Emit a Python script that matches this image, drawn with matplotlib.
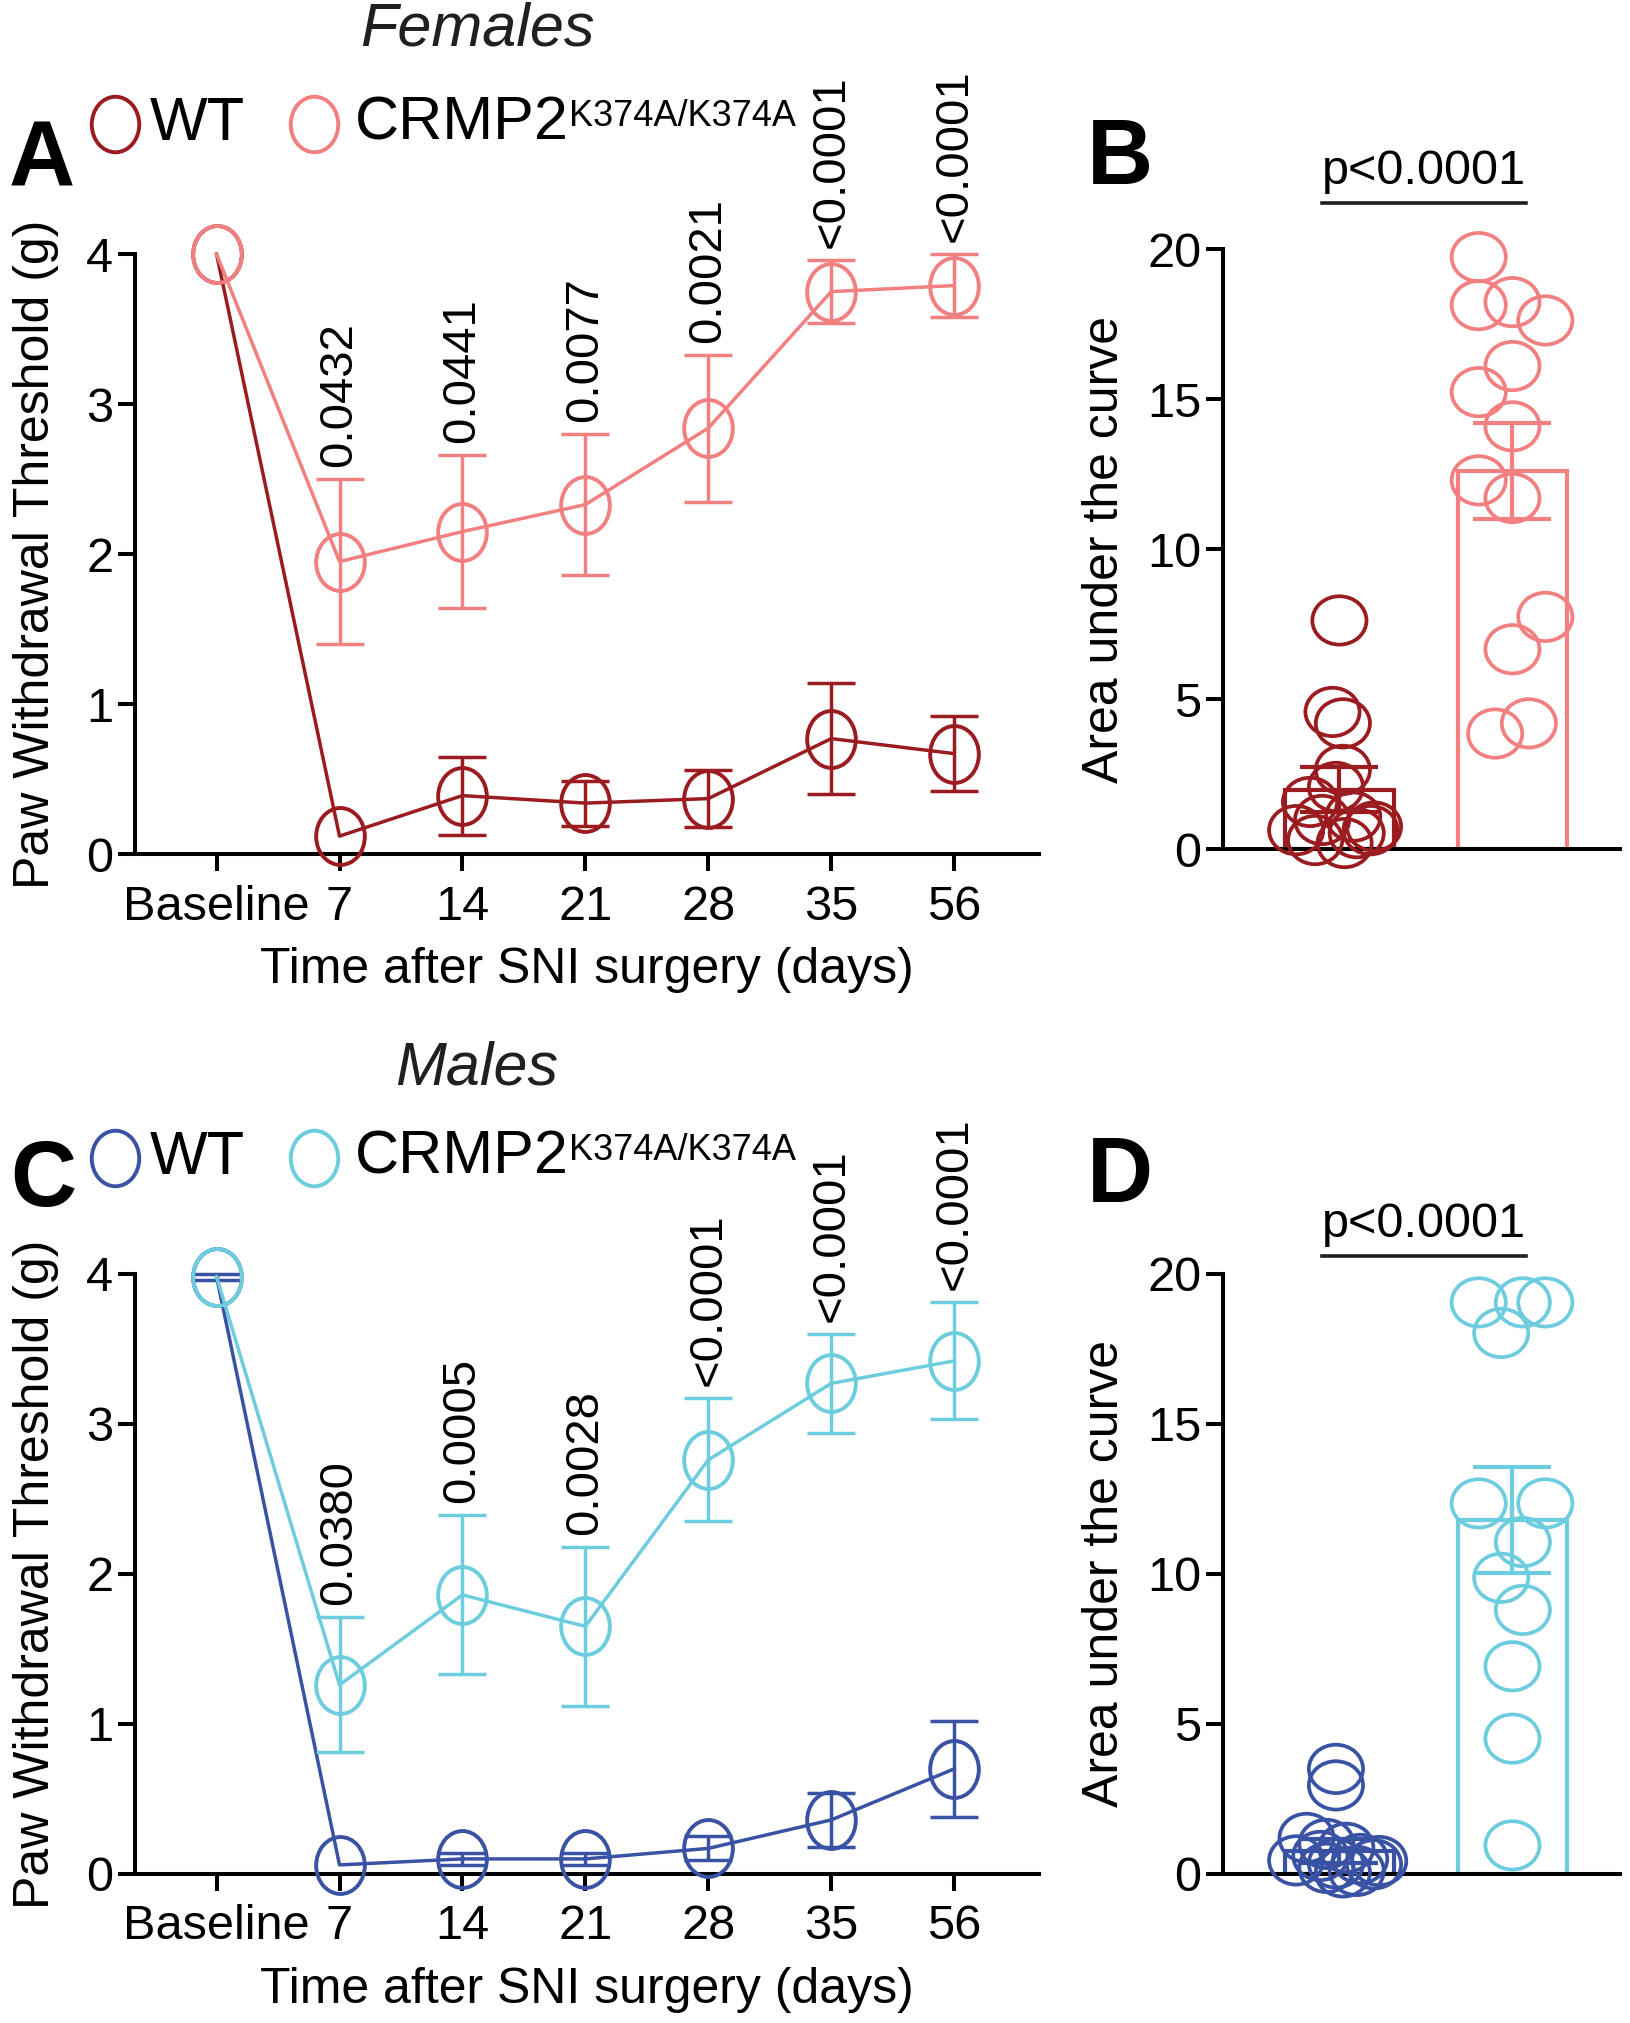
import matplotlib
matplotlib.use('Agg')
import matplotlib.pyplot as plt
import numpy as np
from matplotlib.path import Path
from matplotlib.lines import Line2D

plt.rcParams['font.family'] = ['Liberation Sans', 'DejaVu Sans']

# ---- data ----
days = ['Baseline', '7', '14', '21', '28', '35', '56']

f_wt = [4.0, 0.12, 0.39, 0.34, 0.37, 0.77, 0.67]
f_wt_err = [0.0, 0.0, 0.26, 0.15, 0.19, 0.37, 0.25]
f_ki = [4.0, 1.95, 2.15, 2.33, 2.84, 3.75, 3.79]
f_ki_err = [0.0, 0.55, 0.51, 0.47, 0.49, 0.21, 0.21]
f_p = ['', '0.0432', '0.0441', '0.0077', '0.0021', '<0.0001', '<0.0001']

m_wt = [3.98, 0.06, 0.10, 0.10, 0.17, 0.36, 0.70]
m_wt_err = [0.02, 0.0, 0.04, 0.04, 0.08, 0.18, 0.32]
m_ki = [3.98, 1.26, 1.86, 1.65, 2.76, 3.27, 3.42]
m_ki_err = [0.0, 0.45, 0.53, 0.53, 0.41, 0.33, 0.39]
m_p = ['', '0.0380', '0.0005', '0.0028', '<0.0001', '<0.0001', '<0.0001']

# area under the curve, individual animals
f_auc_wt = [7.62, 4.57, 4.19, 2.64, 2.07, 1.57, 1.08, 0.97, 0.75, 0.63, 0.63, 0.53, 0.30, 0.20]
f_auc_ki = [19.73, 18.13, 18.23, 17.62, 16.10, 15.23, 14.09, 12.29, 11.70, 7.74, 6.66, 4.19, 3.85]
f_auc_mean = [1.97, 12.6]
f_auc_sem = [0.75, 1.6]

m_auc_wt = [3.5, 2.95, 1.2, 1.0, 0.87, 0.6, 0.5, 0.45, 0.43, 0.35, 0.32, 0.2, 0.1, 0.05]
m_auc_ki = [19.05, 19.05, 19.05, 18.03, 12.35, 12.35, 11.06, 9.87, 8.80, 6.92, 4.51, 0.95]
m_auc_mean = [0.75, 11.8]
m_auc_sem = [0.4, 1.77]

# horizontal scatter of the dots (layout only)
f_jit_wt = [0.0, -0.04, 0.02, 0.02, -0.02, -0.17, 0.08, -0.10, 0.20, -0.25, 0.18, 0.10, -0.14, 0.03]
f_jit_ki = [-0.195, -0.195, 0.0, 0.19, 0.0, -0.195, 0.0, -0.195, 0.0, 0.19, 0.0, 0.095, -0.10]
m_jit_wt = [-0.02, -0.02, -0.19, -0.075, 0.04, -0.11, 0.12, -0.25, 0.23, -0.02, 0.2, -0.075, 0.1, 0.02]
m_jit_ki = [-0.195, 0.06, 0.19, -0.065, -0.195, 0.19, 0.06, -0.065, 0.06, 0.0, 0.0, 0.0]

red_dark = '#9b1c20'
red_light = '#f28080'
blue_dark = '#3a52a3'
blue_light = '#6dcddf'


def ellipse(sx, sy):
    c = Path.unit_circle()
    v = c.vertices.copy()
    v[:, 0] *= sx
    v[:, 1] *= sy
    return Path(v, c.codes)


tall = ellipse(1.0, 1.17)
wide = ellipse(1.12, 1.0)

fig = plt.figure(figsize=(16.3, 20.23), dpi=100)


def style(ax):
    for s in ['top', 'right']:
        ax.spines[s].set_visible(False)
    for s in ['left', 'bottom']:
        ax.spines[s].set_linewidth(2.9)
    ax.tick_params(width=2.9, length=12, labelsize=35, pad=4)


def line_panel(rect, wt, wt_err, ki, ki_err, pvals, c_wt, c_ki):
    ax = fig.add_axes(rect)
    x = np.arange(len(days))
    for y, e, c in [(wt, wt_err, c_wt), (ki, ki_err, c_ki)]:
        ax.plot(x, y, color=c, lw=2.5, marker=tall, ms=41, mfc='none', mec=c, mew=2.8,
                clip_on=False, zorder=3)
        idx = [i for i in range(len(e)) if e[i] > 0]
        ax.errorbar(x[idx], np.array(y)[idx], yerr=np.array(e)[idx], fmt='none', ecolor=c,
                    elinewidth=2.5, capsize=17, capthick=2.5, clip_on=False, zorder=3)
    for i, p in enumerate(pvals):
        if p:
            ax.text(x[i], ki[i] + ki_err[i] + 0.08, p, rotation=90, ha='center', va='bottom',
                    fontsize=34)
    style(ax)
    ax.set_xlim(-0.66, 6.69)
    ax.set_ylim(0, 4)
    ax.set_yticks([0, 1, 2, 3, 4])
    ax.set_xticks(x)
    ax.set_xticklabels(days)
    ax.tick_params(axis='x', pad=10)
    ax.set_ylabel('Paw Withdrawal Threshold (g)', fontsize=36)
    ax.set_xlabel('Time after SNI surgery (days)', fontsize=36)
    ax.yaxis.set_label_coords(-0.085, 0.5)
    ax.xaxis.set_label_coords(0.5, -0.155)
    return ax


def auc_panel(rect, wt, ki, jwt, jki, mean, sem, c_wt, c_ki, line_y):
    ax = fig.add_axes(rect)
    ax.bar([0, 1], mean, width=0.63, facecolor='none', edgecolor=[c_wt, c_ki], linewidth=3.0,
           zorder=2)
    ax.scatter(np.array(jwt), wt, marker=wide, s=39 ** 2, facecolors='none', edgecolors=c_wt,
               linewidths=2.7, clip_on=False, zorder=3)
    ax.scatter(1 + np.array(jki), ki, marker=wide, s=39 ** 2, facecolors='none', edgecolors=c_ki,
               linewidths=2.7, clip_on=False, zorder=3)
    for i, c in enumerate([c_wt, c_ki]):
        ax.errorbar(i, mean[i], yerr=sem[i], fmt='none', ecolor=c, elinewidth=3.0, capsize=28,
                    capthick=3.0, zorder=4)
    ax.plot([-0.1, 1.08], [line_y, line_y], color='#231f20', lw=2.6, clip_on=False)
    ax.text(0.49, line_y + 0.3, 'p<0.0001', ha='center', va='bottom', fontsize=35)
    style(ax)
    ax.set_xlim(-0.67, 1.62)
    ax.set_ylim(0, 20)
    ax.set_yticks([0, 5, 10, 15, 20])
    ax.set_xticks([])
    ax.set_ylabel('Area under the curve', fontsize=36)
    ax.yaxis.set_label_coords(-0.24, 0.5)
    return ax


line_panel([0.0831, 0.5778, 0.5543, 0.2966], f_wt, f_wt_err, f_ki, f_ki_err, f_p, red_dark, red_light)
line_panel([0.0831, 0.0737, 0.5543, 0.2966], m_wt, m_wt_err, m_ki, m_ki_err, m_p, blue_dark, blue_light)
auc_panel([0.7506, 0.5803, 0.2431, 0.2966], f_auc_wt, f_auc_ki, f_jit_wt, f_jit_ki,
          f_auc_mean, f_auc_sem, red_dark, red_light, 21.55)
auc_panel([0.7506, 0.0737, 0.2431, 0.2966], m_auc_wt, m_auc_ki, m_jit_wt, m_jit_ki,
          m_auc_mean, m_auc_sem, blue_dark, blue_light, 20.6)

W, H = 1630.0, 2023.0

# titles
fig.text(477 / W, 1 - 30 / H, 'Females', fontsize=44, style='italic', ha='center', va='center',
         color='#231f20')
fig.text(477 / W, 1 - 1069 / H, 'Males', fontsize=44, style='italic', ha='center', va='center',
         color='#231f20')

# panel letters
for lab, px, py in [('A', 42, 162), ('B', 1120, 160), ('C', 43, 1182), ('D', 1120, 1178)]:
    fig.text(px / W, 1 - py / H, lab, fontsize=66, fontweight='bold', ha='center', va='center')

# legends
fig.canvas.draw()
rend = fig.canvas.get_renderer()
for yc, c_wt, c_ki in [(124, red_dark, red_light), (1158, blue_dark, blue_light)]:
    yy = 1 - yc / H
    fig.add_artist(Line2D([115 / W], [yy], marker=tall, ms=40, mfc='none', mec=c_wt, mew=2.8,
                          transform=fig.transFigure))
    fig.add_artist(Line2D([314 / W], [yy], marker=tall, ms=40, mfc='none', mec=c_ki, mew=2.8,
                          transform=fig.transFigure))
    fig.text(150 / W, yy, 'WT', fontsize=44, va='center')
    t = fig.text(355 / W, yy, 'CRMP2', fontsize=44, va='center')
    bb = t.get_window_extent(renderer=rend)
    fig.text(bb.x1 / W, (bb.y1 - 4) / H, 'K374A/K374A', fontsize=26, va='top')

fig.savefig('out.png', dpi=100)
